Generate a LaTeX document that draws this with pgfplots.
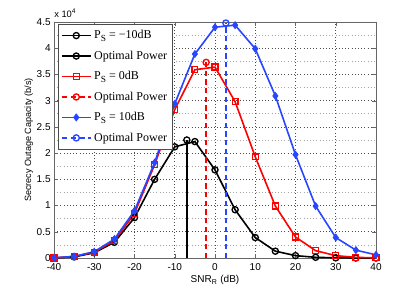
\documentclass[border=0pt]{standalone}
\usepackage{pgfplots}
\pgfplotsset{compat=1.18}
\usetikzlibrary{calc}
\usepackage{fontspec}
\setmainfont{Liberation Sans}
\newfontfamily\legfont{Liberation Serif}
\definecolor{bl}{RGB}{40,70,255}
\newcommand{\PS}{P\raisebox{-0.45ex}{\fontsize{7}{8}\selectfont S}}
\begin{document}
\begin{tikzpicture}
\begin{axis}[
  name=ax,
  scale only axis,
  width=241.5pt, height=177pt,
  xmin=-40, xmax=40, ymin=0, ymax=4.5,
  xtick={-40,-30,...,40},
  ytick={0,0.5,...,4.5},
  minor ytick={0.25,0.75,...,4.25},
  yticklabels={0,0.5,1,1.5,2,2.5,3,3.5,4,4.5},
  tick align=inside,
  major tick length=3pt, minor tick length=0pt,
  grid=both,
  major grid style={black!70, dotted, line width=0.5pt},
  minor grid style={black!35, dotted, line width=0.5pt},
  axis line style={black!60, line width=0.6pt},
  tick style={black!60},
  ticklabel style={font=\fontsize{7.5}{9}\selectfont},
  /pgf/number format/assume math mode=true,
  xticklabel style={yshift=-0.5pt},
  yticklabel style={xshift=1pt},
  xlabel={SNR\textsubscript{R} (dB)},
  ylabel={Secrecy Outage Capacity (b/s)},
  xlabel style={font=\fontsize{7.5}{9}\selectfont, yshift=3pt},
  ylabel style={font=\fontsize{6.8}{8}\selectfont, yshift=-4pt},
  legend style={at={(0.012,0.992)}, anchor=north west, font=\legfont\fontsize{9}{10}\selectfont,
    draw=black!70, line width=0.8pt, fill=white, row sep=3.6pt, inner xsep=2pt, inner ysep=2.5pt},
  legend cell align=left,
  legend image code/.code={\draw[mark repeat=2, mark phase=2] plot coordinates {(0cm,0cm) (0.38cm,0cm) (0.76cm,0cm)};},
  clip=false,
]
\addplot[black, line width=1.2pt, mark=o, mark size=2.3pt, mark options={solid, line width=1pt}] coordinates {
(-40,0) (-35,0.02) (-30,0.1) (-25,0.3) (-20,0.77) (-15,1.5) (-10,2.12) (-5,2.22) (0,1.68) (5,0.92) (10,0.39) (15,0.13) (20,0.045) (25,0.013) (30,0.003) (35,0) (40,0)};
\addlegendentry{\PS{} = −10dB}
\addplot[black, line width=1.2pt, mark=o, mark size=2.3pt, mark indices={2}, mark options={solid, line width=1pt}] coordinates {(-7,0) (-7,2.25)};
\addlegendentry{Optimal Power}
\addplot[red, line width=1.2pt, mark=square, mark size=2.2pt, mark options={solid, line width=1pt}] coordinates {
(-40,0) (-35,0.03) (-30,0.11) (-25,0.33) (-20,0.85) (-15,1.78) (-10,2.83) (-5,3.59) (0,3.64) (5,2.98) (10,1.93) (15,0.99) (20,0.40) (25,0.14) (30,0.045) (35,0.012) (40,0.003)};
\addlegendentry{\PS{} = 0dB}
\addplot[red, line width=1.2pt, dash pattern=on 4pt off 2.5pt, mark=o, mark size=2.3pt, mark indices={2}, mark options={solid, line width=1pt}] coordinates {(-2.2,0) (-2.2,3.73)};
\addlegendentry{Optimal Power}
\addplot[bl, line width=1.2pt, mark=diamond*, mark size=2.6pt, mark options={solid, line width=0.6pt, fill=bl}] coordinates {
(-40,0.005) (-35,0.03) (-30,0.12) (-25,0.36) (-20,0.9) (-15,1.82) (-10,2.94) (-5,3.89) (0,4.40) (5,4.44) (10,3.99) (15,3.09) (20,1.97) (25,0.99) (30,0.39) (35,0.15) (40,0.06)};
\addlegendentry{\PS{} = 10dB}
\addplot[bl, line width=1.2pt, dash pattern=on 4pt off 2.5pt, mark=o, mark size=2.3pt, mark indices={2}, mark options={solid, line width=1pt}] coordinates {(2.7,0) (2.7,4.48)};
\addlegendentry{Optimal Power}
\node[anchor=south west, font=\fontsize{7}{8}\selectfont, inner sep=0pt] at ($(rel axis cs:0,1)+(0pt,3pt)$) {x 10\textsuperscript{4}};
\end{axis}
\pgfresetboundingbox
\path[use as bounding box] ($(ax.south west)+(-40.5pt,-24.75pt)$) rectangle ($(ax.north east)+(29.25pt,16.5pt)$);
\end{tikzpicture}
\end{document}
